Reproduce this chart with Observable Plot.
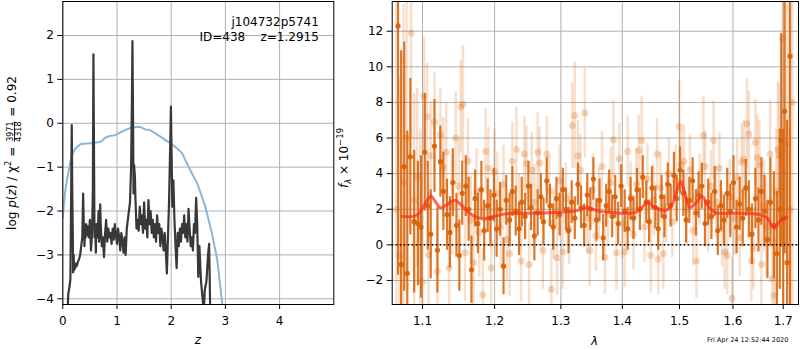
<!DOCTYPE html>
<html><head><meta charset="utf-8">
<script src="https://cdn.jsdelivr.net/npm/d3@7"></script>
<script src="https://cdn.jsdelivr.net/npm/@observablehq/plot@0.6"></script>
<style>
body{margin:0;background:#fff;}
#wrap{position:relative;width:800px;height:350px;font-family:"DejaVu Sans",sans-serif;}
#wrap svg{position:absolute;top:0;overflow:visible;}
#wrap text{white-space:pre;}
</style></head><body><div id="wrap"></div>
<script>
// ---------- left panel: redshift PDF ----------
const zTicks = [0, 1, 2, 3, 4];
const logpTicks = [-4, -3, -2, -1, 0, 1, 2];
const zFit = [0.09,0.10,0.12,0.14,0.155,0.165,0.175,0.185,0.19,0.20,0.21,0.22,0.23,0.24,0.26,0.28,0.30,0.32,0.34,0.36,0.375,0.385,0.40,0.41,0.42,0.43,0.45,0.46,0.48,0.50,0.52,0.54,0.555,0.565,0.575,0.585,0.60,0.61,0.62,0.64,0.66,0.67,0.69,0.70,0.72,0.74,0.76,0.78,0.80,0.82,0.84,0.86,0.88,0.90,0.92,0.94,0.96,0.98,1.00,1.02,1.04,1.06,1.08,1.10,1.12,1.14,1.16,1.18,1.20,1.22,1.24,1.26,1.275,1.285,1.295,1.305,1.315,1.33,1.34,1.36,1.38,1.40,1.42,1.44,1.46,1.48,1.50,1.52,1.54,1.56,1.58,1.60,1.62,1.64,1.66,1.68,1.70,1.72,1.74,1.76,1.78,1.80,1.82,1.84,1.86,1.88,1.90,1.92,1.94,1.96,1.985,1.995,2.005,2.02,2.04,2.06,2.08,2.10,2.12,2.14,2.16,2.18,2.20,2.22,2.24,2.26,2.28,2.30,2.32,2.34,2.36,2.38,2.40,2.42,2.44,2.46,2.48,2.50,2.52,2.55,2.58,2.60,2.62,2.65,2.68,2.70,2.72];
const logpFit = [-4.3,-3.9,-3.75,-3.55,-1.5,-0.04,-1.6,-2.55,-3.4,-3.0,-3.35,-3.2,-3.3,-3.2,-3.25,-3.15,-3.1,-3.0,-2.8,-2.6,-1.6,-2.2,-2.8,-2.4,-2.6,-2.3,-2.55,-2.35,-2.6,-2.2,-2.9,-2.5,-1.5,1.57,-0.5,-2.6,-2.4,-2.95,-2.3,-2.6,-2.0,-2.7,-1.85,-2.3,-2.8,-2.6,-3.05,-2.5,-2.2,-2.7,-2.4,-2.6,-2.5,-2.75,-2.4,-2.65,-2.3,-2.55,-2.75,-2.4,-2.6,-2.9,-2.5,-2.7,-2.95,-2.6,-3.0,-2.4,-2.2,-2.0,-1.8,-1.0,0.5,1.87,0.3,-1.6,-0.95,-1.2,-1.7,-2.4,-2.2,-2.45,-1.9,-2.3,-2.1,-2.5,-1.8,-2.4,-2.2,-2.6,-1.75,-2.3,-2.0,-2.5,-2.2,-2.6,-2.3,-2.7,-2.1,-2.5,-2.3,-2.8,-2.4,-2.6,-2.9,-2.5,-2.9,-3.42,-2.6,-1.8,-0.3,0.38,-0.5,-1.9,-1.3,-2.2,-2.8,-3.3,-2.5,-2.8,-2.4,-2.7,-2.3,-2.5,-2.1,-2.6,-2.3,-2.7,-1.95,-2.4,-2.8,-2.6,-2.9,-2.3,-2.5,-1.7,-2.3,-3.5,-2.8,-3.6,-4.0,-4.3,-3.8,-3.6,-3.0,-2.75,-4.3];
const zPrior = [0.0,0.02,0.04,0.06,0.08,0.11,0.14,0.18,0.234,0.33,0.45,0.57,0.70,0.78,0.87,0.97,1.09,1.20,1.28,1.43,1.525,1.60,1.71,1.89,2.07,2.20,2.32,2.48,2.63,2.75,2.85,2.94,2.98];
const logpPrior = [-2.15,-1.85,-1.6,-1.42,-1.28,-1.08,-0.87,-0.7,-0.57,-0.47,-0.46,-0.45,-0.42,-0.33,-0.29,-0.27,-0.19,-0.13,-0.09,-0.08,-0.14,-0.15,-0.23,-0.38,-0.53,-0.68,-0.99,-1.37,-1.9,-2.5,-3.11,-4.1,-4.6];
const annotLines = ["j104732p5741", "ID=438    z=1.2915"];

// ---------- right panel: spectrum ----------
const lamTicks = [1.1, 1.2, 1.3, 1.4, 1.5, 1.6, 1.7];
const fluxTicks = [-2, 0, 2, 4, 6, 8, 10, 12];
const lamA = [1.068,1.072,1.076,1.080,1.084,1.089,1.094,1.098,1.103,1.107,1.111,1.116,1.120,1.124,1.128,1.133,1.137,1.141,1.146,1.150,1.154,1.159,1.163,1.167,1.172,1.176,1.181,1.185,1.190,1.194,1.199,1.203,1.208,1.213,1.217,1.222,1.226,1.231,1.236,1.240,1.245,1.250,1.254,1.259,1.264,1.269,1.273,1.278,1.283,1.288,1.293,1.298,1.303,1.308,1.312,1.317,1.322,1.327,1.332,1.337,1.342,1.347,1.352,1.357,1.362,1.368,1.373,1.378,1.383,1.388,1.393,1.398,1.404,1.409,1.414,1.419,1.425,1.430,1.435,1.441,1.446,1.451,1.457,1.462,1.468,1.473,1.479,1.484,1.490,1.495,1.501,1.507,1.512,1.518,1.524,1.530,1.535,1.541,1.547,1.553,1.559,1.565,1.571,1.577,1.583,1.589,1.595,1.601,1.607,1.613,1.619,1.625,1.631,1.637,1.644,1.650,1.656,1.662,1.668,1.674,1.681,1.687,1.693,1.696,1.700,1.703,1.708,1.714];
const fluxA = [12.3,-1.1,4.4,-1.6,4.95,1.3,1.2,1.0,5.2,2.2,0.6,5.55,-0.3,4.67,3.0,1.7,0.7,3.5,1.1,-0.6,2.9,3.3,2.0,-1.4,2.6,1.2,3.1,0.8,2.2,1.5,2.8,0.9,2.0,-1.2,2.5,1.4,3.0,1.9,0.9,2.4,1.6,3.3,2.1,0.5,1.8,2.7,1.3,3.6,2.2,1.0,2.6,1.7,3.1,2.0,0.8,2.4,1.5,3.4,2.1,1.1,2.8,2.0,3.7,1.4,2.5,0.4,2.2,3.0,1.6,2.7,1.2,3.3,1.9,0.9,2.6,1.5,3.1,2.0,3.8,2.4,1.3,3.2,2.1,0.9,2.7,1.6,3.4,2.2,3.9,2.6,4.2,2.9,1.4,2.5,3.6,1.8,2.8,3.3,1.2,2.4,1.6,3.0,0.8,2.2,1.4,2.9,1.9,3.5,1.0,2.3,1.5,3.2,2.0,0.6,2.6,1.4,3.0,1.9,0.3,2.4,1.1,-0.5,2.0,5.87,1.5,7.5,-1.0,10.6];
const errA = [14,12,7,8,4.4,4,3.5,4,3.3,2.5,2.5,2.6,2.4,2.0,2.2,2.0,2.0,1.9,1.8,2.0,1.8,1.7,1.8,1.9,1.6,1.7,1.6,1.7,1.5,1.6,1.5,1.6,1.5,1.6,1.4,1.5,1.4,1.4,1.5,1.4,1.3,1.4,1.3,1.4,1.3,1.3,1.3,1.3,1.2,1.3,1.2,1.2,1.2,1.2,1.3,1.2,1.2,1.2,1.2,1.2,1.2,1.2,1.2,1.2,1.2,1.3,1.2,1.2,1.2,1.2,1.2,1.2,1.2,1.2,1.2,1.2,1.2,1.2,1.2,1.2,1.2,1.2,1.2,1.2,1.2,1.2,1.2,1.2,1.3,1.3,1.3,1.3,1.3,1.3,1.3,1.3,1.3,1.3,1.3,1.3,1.3,1.4,1.4,1.4,1.4,1.4,1.5,1.5,1.5,1.5,1.6,1.6,1.6,1.7,1.7,1.8,1.9,2.0,2.2,2.5,3.0,3.5,4.5,6,5,8,8,16];
const lamB = [1.066,1.070,1.075,1.079,1.085,1.089,1.093,1.097,1.100,1.102,1.106,1.108,1.111,1.116,1.120,1.124,1.128,1.132,1.136,1.140,1.145,1.149,1.152,1.155,1.158,1.162,1.166,1.170,1.174,1.178,1.183,1.187,1.191,1.195,1.200,1.204,1.209,1.213,1.218,1.222,1.226,1.232,1.236,1.239,1.244,1.247,1.251,1.255,1.259,1.264,1.267,1.272,1.278,1.282,1.285,1.289,1.294,1.298,1.303,1.308,1.313,1.318,1.322,1.327,1.331,1.338,1.342,1.346,1.351,1.356,1.361,1.366,1.371,1.376,1.381,1.385,1.390,1.395,1.400,1.404,1.409,1.414,1.419,1.424,1.428,1.433,1.438,1.443,1.449,1.454,1.460,1.462,1.466,1.471,1.476,1.481,1.487,1.493,1.4996,1.503,1.508,1.513,1.519,1.525,1.531,1.537,1.544,1.547,1.553,1.558,1.563,1.568,1.574,1.579,1.584,1.589,1.594,1.598,1.603,1.608,1.613,1.617,1.621,1.627,1.631,1.636,1.640,1.644,1.648,1.652,1.656,1.661,1.666,1.6735,1.678,1.682,1.686,1.689,1.692,1.6986,1.7085,1.714,1.719];
const fluxB = [2.0,-0.6,3.5,6.0,11.9,2.5,3.8,1.5,-2.1,8.35,7.2,-0.55,5.0,6.9,-1.5,6.2,4.35,5.2,-1.3,2.2,6.0,3.3,7.75,7.9,-0.44,4.7,1.4,-1.0,3.0,0.7,-2.8,5.25,4.3,-1.3,4.1,2.9,1.0,3.4,0.3,-0.5,4.7,5.35,1.8,-0.9,5.1,4.55,-1.1,4.2,2.4,5.2,4.6,-0.3,5.1,3.0,-2.5,1.2,-0.73,3.6,-0.4,2.6,0.9,6.7,7.26,5.0,4.2,7.4,1.5,-0.32,3.1,0.5,2.3,4.4,-0.7,1.9,3.5,5.9,-0.45,4.83,1.2,-0.4,5.24,2.7,0.6,3.4,5.3,5.86,1.0,3.7,-0.6,2.5,5.1,-0.8,3.2,-0.5,2.1,4.0,1.3,3.6,6.65,4.5,4.7,2.0,4.2,0.8,-0.9,3.1,6.14,4.4,1.6,3.3,5.86,2.4,4.3,0.9,-0.4,-0.6,2.7,-3.0,1.5,3.8,0.4,4.62,4.8,6.8,6.23,-0.9,-0.2,5.76,4.9,4.5,-1.1,2.2,1.0,5.1,-1.9,-2.85,3.0,5.36,5.0,11.6,5.7,2.0,8.0];
const errB = [12,10,10,8,6,6,5,5,4,3.3,3.0,3.5,3.0,2.8,3.0,2.6,2.8,2.8,3.0,2.8,2.6,2.6,2.6,3.3,2.7,2.4,2.5,2.6,2.4,2.5,2.6,2.4,2.3,2.5,2.4,2.3,2.3,2.2,2.3,2.4,2.2,2.4,2.2,2.3,2.1,2.1,2.3,2.1,2.1,2.2,2.0,2.2,2.1,2.0,2.3,2.0,2.1,2.0,2.1,2.0,2.0,2.4,3.0,2.0,2.0,2.5,2.0,2.0,2.0,2.0,2.0,2.0,2.1,2.0,2.0,2.2,2.1,2.0,2.0,2.0,2.0,2.0,2.0,2.0,2.0,2.5,2.0,2.0,2.1,2.0,2.0,2.0,2.0,2.0,2.0,2.0,2.0,2.0,2.6,2.0,2.0,2.0,2.0,2.0,2.1,2.0,2.2,2.0,2.0,2.0,2.2,2.0,2.0,2.1,2.1,2.2,2.1,2.3,2.1,2.1,2.2,2.2,2.2,2.5,2.4,2.3,2.3,2.4,2.4,2.5,2.6,2.6,2.8,3.0,3.0,3.2,3.5,3.8,4.0,6,8,12,14];
const lamModel = [1.0734,1.0886,1.095,1.100,1.106,1.1116,1.117,1.124,1.131,1.138,1.1445,1.150,1.158,1.167,1.1835,1.195,1.2155,1.25,1.28,1.3145,1.330,1.342,1.355,1.366,1.4227,1.435,1.4427,1.452,1.465,1.475,1.487,1.495,1.502,1.509,1.5183,1.527,1.5416,1.552,1.568,1.60,1.653,1.668,1.676,1.682,1.6907,1.700,1.708];
const fluxModel = [1.6,1.6,1.75,2.05,2.5,2.73,2.45,2.08,2.2,2.42,2.49,2.35,2.0,1.7,1.46,1.55,1.74,1.78,1.8,1.87,1.95,2.11,1.95,1.87,1.83,2.15,2.39,2.2,1.98,1.92,2.3,3.0,3.56,3.0,2.11,2.25,2.73,2.2,1.8,1.78,1.69,1.5,1.1,0.93,1.27,1.45,1.55];
const zeroLevel = [0];
const timestamp = "Fri Apr 24 12:52:44 2020";

// ---------- build tables ----------
const fitData = zFit.map((z, i) => ({z, v: logpFit[i]}));
const priorData = zPrior.map((z, i) => ({z, v: logpPrior[i]}));
const specA = lamA.map((l, i) => ({l, f: fluxA[i], e: errA[i]}));
const specB = lamB.map((l, i) => ({l, f: fluxB[i], e: errB[i]}));
const model = lamModel.map((l, i) => ({l, f: fluxModel[i]}));

const FS = 12;
const ORANGE = "#d95f02";
const grid = {stroke: "#b0b0b0", strokeOpacity: 1, strokeWidth: 1};
const baseStyle = {fontFamily: "DejaVu Sans", fontSize: FS + "px", background: "transparent", color: "black", overflow: "visible"};

const wrap = document.getElementById("wrap");

const L = Plot.plot({
  width: 340, height: 350,
  marginLeft: 62.3, marginRight: 6.7, marginTop: 1, marginBottom: 46,
  style: baseStyle,
  x: {domain: [0, 5], label: null},
  y: {domain: [-4.13, 2.775], label: null},
  marks: [
    Plot.gridX(zTicks, grid),
    Plot.gridY(logpTicks, grid),
    Plot.line(priorData, {x: "z", y: "v", stroke: "#88b7dc", strokeWidth: 2, clip: true}),
    Plot.line(fitData, {x: "z", y: "v", stroke: "#383838", strokeWidth: 2.2, clip: true}),
    Plot.axisX(zTicks, {tickSize: 5, tickPadding: 7, label: null, tickFormat: d3.format("d"), fontSize: FS}),
    Plot.axisY(logpTicks, {tickSize: 5, tickPadding: 4, label: null, tickFormat: d3.format("d"), fontSize: FS}),
    Plot.frame({stroke: "black", strokeWidth: 1}),
    Plot.text([annotLines.join("\n")], {frameAnchor: "top-right", dx: -15, dy: 14.5, lineAnchor: "top", textAnchor: "end", lineHeight: 1.2, fontSize: FS, fill: "black"})
  ]
});
L.style.left = "0px";
wrap.appendChild(L);

const R = Plot.plot({
  width: 460, height: 350,
  marginLeft: 51.7, marginRight: 2, marginTop: 1, marginBottom: 46,
  style: baseStyle,
  x: {type: "log", domain: [1.0605, 1.7317], label: null},
  y: {domain: [-3.35, 13.67], label: null},
  marks: [
    Plot.gridX(lamTicks, grid),
    Plot.gridY(fluxTicks, grid),
    Plot.ruleX(specB, {x: "l", y1: d => d.f - d.e, y2: d => d.f + d.e, stroke: ORANGE, strokeOpacity: 0.2, strokeWidth: 2.5, clip: true}),
    Plot.dot(specB, {x: "l", y: "f", r: 3.5, fill: ORANGE, fillOpacity: 0.25, stroke: "none", clip: true}),
    Plot.ruleX(specA, {x: "l", y1: d => d.f - d.e, y2: d => d.f + d.e, stroke: ORANGE, strokeOpacity: 0.85, strokeWidth: 2.2, clip: true}),
    Plot.dot(specA, {x: "l", y: "f", r: 2.6, fill: ORANGE, fillOpacity: 0.9, stroke: "none", clip: true}),
    Plot.line(model, {x: "l", y: "f", stroke: "#ff2a1a", strokeOpacity: 0.7, strokeWidth: 3, curve: "catmull-rom", clip: true}),
    Plot.ruleY(zeroLevel, {stroke: "black", strokeWidth: 1.5, strokeDasharray: "1.5,2.5"}),
    Plot.axisX(lamTicks, {tickSize: 5, tickPadding: 7, label: null, tickFormat: d3.format(".1f"), fontSize: FS}),
    Plot.axisY(fluxTicks, {tickSize: 5, tickPadding: 4, label: null, tickFormat: d3.format("d"), fontSize: FS}),
    Plot.frame({stroke: "black", strokeWidth: 1})
  ]
});
R.style.left = "340px";
wrap.appendChild(R);

// ---------- axis titles (real text, mathtext-like) ----------
function rotLabel(svg, tx, ty) {
  return d3.select(svg).append("g")
    .attr("transform", `translate(${tx},${ty}) rotate(-90)`)
    .attr("font-family", "DejaVu Sans").attr("fill", "black");
}
// left y label: log p(z) / chi^2 = 3971/4318 = 0.92  (fraction built from tspans)
{
  const g = rotLabel(L, 16, 153);
  const t = g.append("text").attr("font-size", FS).attr("text-anchor", "middle");
  t.append("tspan").text("log ");
  t.append("tspan").attr("font-style", "italic").text("p");
  t.append("tspan").text("(");
  t.append("tspan").attr("font-style", "italic").text("z");
  t.append("tspan").text(") / χ");
  t.append("tspan").attr("font-size", 8.5).attr("dy", -5).text("2");
  t.append("tspan").attr("dy", 5).text(" = ");
  t.append("tspan").attr("font-size", 8).attr("dx", 1).attr("dy", -3.2).text("3971");
  t.append("tspan").attr("font-size", 8).attr("dx", -20.35).attr("dy", 8.4)
    .style("text-decoration", "overline").text("4318");
  t.append("tspan").attr("dx", 1).attr("dy", -5.2).text(" = 0.92");
}
// right y label: f_lambda x 10^-19
{
  const g = rotLabel(R, 8, 158);
  const t = g.append("text").attr("font-size", FS).attr("text-anchor", "middle");
  t.append("tspan").attr("font-style", "italic").text("f");
  t.append("tspan").attr("font-style", "italic").attr("font-size", 8.5).attr("dy", 3).text("λ");
  t.append("tspan").attr("dy", -3).text(" × 10");
  t.append("tspan").attr("font-size", 8.5).attr("dy", -5).text("−19");
}
// x labels
d3.select(L).append("text").attr("x", 198).attr("y", 344).attr("text-anchor", "middle")
  .attr("font-family", "DejaVu Sans").attr("font-size", FS).attr("font-style", "italic").attr("fill", "black").text("z");
d3.select(R).append("text").attr("x", 594.5 - 340).attr("y", 345).attr("text-anchor", "middle")
  .attr("font-family", "DejaVu Sans").attr("font-size", FS).attr("font-style", "italic").attr("fill", "black").text("λ");
d3.select(R).append("text").attr("x", 788.3 - 340).attr("y", 342).attr("text-anchor", "end")
  .attr("font-family", "DejaVu Sans").attr("font-size", 6.5).attr("fill", "black").text(timestamp);
</script></body></html>
